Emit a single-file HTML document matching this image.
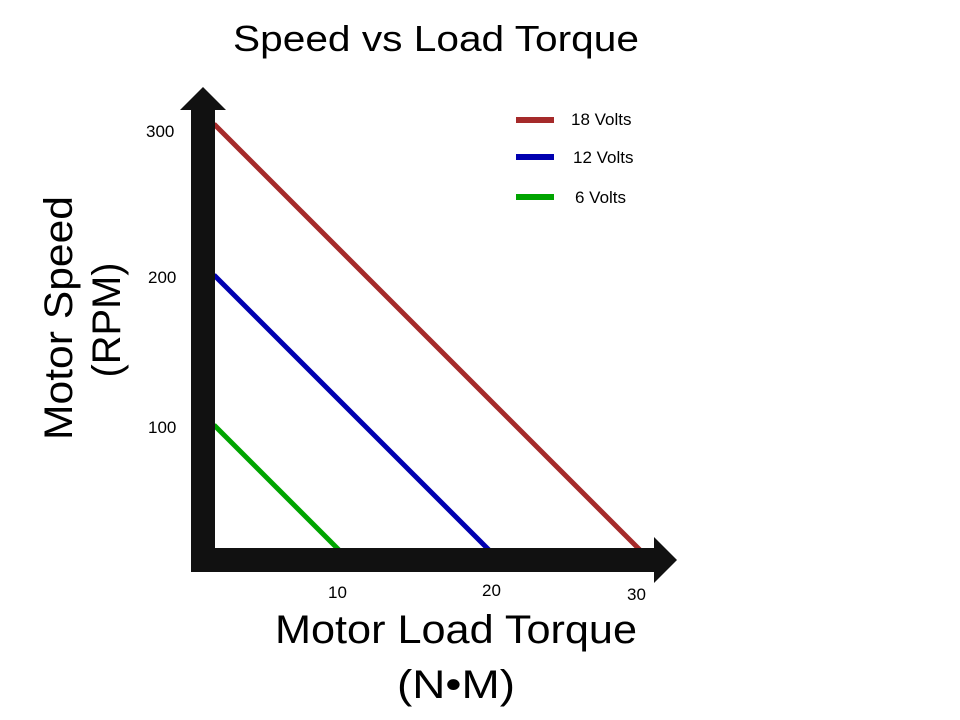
<!DOCTYPE html>
<html><head><meta charset="utf-8"><style>html,body{margin:0;padding:0;background:#fff}svg{display:block}</style></head>
<body>
<svg width="960" height="720" viewBox="0 0 960 720" xmlns="http://www.w3.org/2000/svg" font-family="Liberation Sans, sans-serif" fill="#000">
<rect width="960" height="720" fill="#fff"/>
<text x="436" y="51" font-size="36" text-anchor="middle" textLength="406" lengthAdjust="spacingAndGlyphs">Speed vs Load Torque</text>
<!-- data lines -->
<line x1="214" y1="124" x2="640" y2="550" stroke="#a52a2a" stroke-width="5"/>
<line x1="214" y1="275" x2="489" y2="550" stroke="#0000b0" stroke-width="5"/>
<line x1="214" y1="425" x2="339" y2="550" stroke="#00a400" stroke-width="5"/>
<!-- axes -->
<rect x="191" y="108" width="24" height="464" fill="#111"/>
<polygon points="180,110 203,87 226,110" fill="#111"/>
<rect x="191" y="548" width="465" height="24" fill="#111"/>
<polygon points="654,537 677,560 654,583" fill="#111"/>
<!-- ticks -->
<g font-size="17">
<text x="146" y="137">300</text>
<text x="148" y="283">200</text>
<text x="148" y="433">100</text>
<text x="328" y="598">10</text>
<text x="482" y="596">20</text>
<text x="627" y="600">30</text>
</g>
<!-- legend -->
<rect x="516" y="117" width="38" height="6" fill="#a52a2a"/>
<rect x="516" y="154" width="38" height="6" fill="#0000b0"/>
<rect x="516" y="194" width="38" height="6" fill="#00a400"/>
<g font-size="17">
<text x="571" y="125">18 Volts</text>
<text x="573" y="163">12 Volts</text>
<text x="575" y="203">6 Volts</text>
</g>
<!-- axis labels -->
<text transform="translate(72,318) rotate(-90)" font-size="40" text-anchor="middle" textLength="244" lengthAdjust="spacingAndGlyphs">Motor Speed</text>
<text transform="translate(120,320) rotate(-90)" font-size="40" text-anchor="middle" textLength="115" lengthAdjust="spacingAndGlyphs">(RPM)</text>
<text x="456" y="643" font-size="40" text-anchor="middle" textLength="362" lengthAdjust="spacingAndGlyphs">Motor Load Torque</text>
<text x="456" y="698" font-size="40" text-anchor="middle" textLength="118" lengthAdjust="spacingAndGlyphs">(N•M)</text>
</svg>
</body></html>
